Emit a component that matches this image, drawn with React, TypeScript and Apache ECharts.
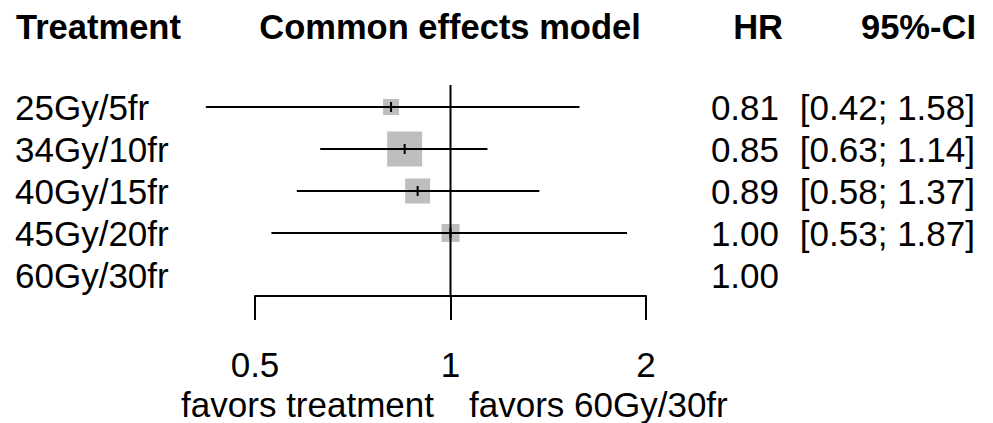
import React, { useEffect, useRef, useState } from 'react';
import * as echarts from 'echarts';

const treatments = ['25Gy/5fr', '34Gy/10fr', '40Gy/15fr', '45Gy/20fr', '60Gy/30fr'];
const hr = [0.81, 0.85, 0.89, 1.0, 1.0];
const ciLow: (number | null)[] = [0.42, 0.63, 0.58, 0.53, null];
const ciHigh: (number | null)[] = [1.58, 1.14, 1.37, 1.87, null];
const weights = [10.5, 50.4, 25.7, 13.3, 0];
const xTicks = [0.5, 1, 2];
const nullEffect = 1;
const headerTreatment = 'Treatment';
const headerModel = 'Common effects model';
const headerHR = 'HR';
const headerCI = '95%-CI';
const favorsLeft = 'favors treatment';
const favorsRight = 'favors 60Gy/30fr';

const FONT = '"Liberation Sans", Arial, Helvetica, sans-serif';
const FS = 35;
const FSB = 34.5;

export default function App() {
  const ref = useRef<HTMLDivElement>(null);
  const [err, setErr] = useState('');
  useEffect(() => {
    document.body.style.margin = '0';
    if (!ref.current) return;
    const chart = echarts.init(ref.current, undefined, { renderer: 'svg' });

    const hrLabels = hr.map((v) => v.toFixed(2));
    const ciLabels = ciLow.map((lo, i) =>
      lo == null || ciHigh[i] == null ? '' : `[${lo.toFixed(2)}; ${(ciHigh[i] as number).toFixed(2)}]`
    );
    const rows = hr
      .map((v, i) => (ciLow[i] == null ? null : [v, ciLow[i], ciHigh[i], weights[i], i]))
      .filter((r) => r !== null);
    const maxW = Math.max(...weights);

    const textStyle = (size: number, bold = false) => ({
      fontFamily: FONT,
      fontSize: size,
      fontWeight: bold ? 'bold' : 'normal',
      color: '#000',
    });

    const gText = (text: string, x: number, y: number, align: string, bold: boolean, size: number) => ({
      type: 'text',
      x,
      y,
      style: {
        text,
        font: `${bold ? 'bold ' : ''}${size}px ${FONT}`,
        fill: '#000',
        align,
        verticalAlign: 'middle',
      },
      silent: true,
    });

    const rightAxis = (data: string[], margin: number) => ({
      type: 'category',
      inverse: true,
      data,
      position: 'right',
      axisLine: { show: false },
      axisTick: { show: false },
      splitLine: { show: false },
      axisLabel: { ...textStyle(FS), interval: 0, hideOverlap: false, align: 'right', margin, padding: [6, 0, 0, 0] },
    });

    try {
      chart.setOption({
        animation: false,
        backgroundColor: '#fff',
        grid: { left: 255, right: 347, top: 86, height: 210, containLabel: false },
        xAxis: {
          type: 'log',
          logBase: 2,
          min: xTicks[0],
          max: xTicks[xTicks.length - 1],
          splitLine: { show: false },
          axisLine: { show: true, lineStyle: { color: '#000', width: 2 } },
          axisTick: { show: true, inside: false, length: 24, lineStyle: { color: '#000', width: 2 } },
          axisLabel: {
            ...textStyle(FS),
            margin: 51,
            formatter: (v: number) => String(+v.toPrecision(3)),
          },
        },
        yAxis: [
          {
            type: 'category',
            inverse: true,
            data: treatments,
            position: 'left',
            axisLine: { show: false },
            axisTick: { show: false },
            splitLine: { show: false },
            axisLabel: { ...textStyle(FS), interval: 0, hideOverlap: false, align: 'left', margin: 240, padding: [6, 0, 0, 0] },
          },
          rightAxis(hrLabels, 133),
          rightAxis(ciLabels, 329),
        ],
        series: [
          {
            type: 'custom',
            xAxisIndex: 0,
            yAxisIndex: 0,
            clip: false,
            z: 2,
            encode: { x: [0, 1, 2], y: 4 },
            data: rows,
            renderItem: (_params: any, api: any) => {
              const est = api.value(0);
              const lo = api.value(1);
              const hi = api.value(2);
              const w = api.value(3);
              const row = api.value(4);
              const pE = api.coord([est, row]);
              const pL = api.coord([lo, row]);
              const pH = api.coord([hi, row]);
              const size = 35 * Math.sqrt(w / maxW);
              return {
                type: 'group',
                children: [
                  {
                    type: 'rect',
                    shape: { x: pE[0] - size / 2, y: pE[1] - size / 2, width: size, height: size },
                    style: { fill: '#bebebe' },
                  },
                  {
                    type: 'line',
                    shape: { x1: pL[0], y1: pL[1], x2: pH[0], y2: pH[1] },
                    style: { stroke: '#000', lineWidth: 2 },
                  },
                  {
                    type: 'line',
                    shape: { x1: pE[0], y1: pE[1] - 5, x2: pE[0], y2: pE[1] + 5 },
                    style: { stroke: '#000', lineWidth: 2 },
                  },
                ],
              };
            },
          },
          {
            type: 'custom',
            xAxisIndex: 0,
            yAxisIndex: 0,
            clip: false,
            z: 5,
            encode: { x: 0, y: 1 },
            data: [[nullEffect, 0]],
            renderItem: (params: any, api: any) => {
              const p = api.coord([api.value(0), 0]);
              const cs = params.coordSys;
              return {
                type: 'line',
                shape: { x1: p[0], y1: cs.y - 1, x2: p[0], y2: cs.y + cs.height },
                style: { stroke: '#000', lineWidth: 2 },
              };
            },
          },
        ],
        graphic: [
          gText(headerTreatment, 16, 27, 'left', true, FSB),
          gText(headerModel, 450, 27, 'center', true, FSB),
          gText(headerHR, 783, 27, 'right', true, FSB),
          gText(headerCI, 976, 27, 'right', true, FSB),
          gText(favorsLeft, 434, 404, 'right', false, FS),
          gText(favorsRight, 469, 404, 'left', false, FS),
        ],
      });
    } catch (e: any) {
      setErr(String(e && e.stack ? e.stack : e));
    }

    return () => chart.dispose();
  }, []);

  return (
    <div style={{ position: 'relative', width: 993, height: 423 }}>
      <div ref={ref} style={{ width: 993, height: 423 }} />
      {err ? (
        <pre style={{ position: 'absolute', left: 0, top: 0, fontSize: 10, margin: 0, background: '#fff' }}>{err}</pre>
      ) : null}
    </div>
  );
}
